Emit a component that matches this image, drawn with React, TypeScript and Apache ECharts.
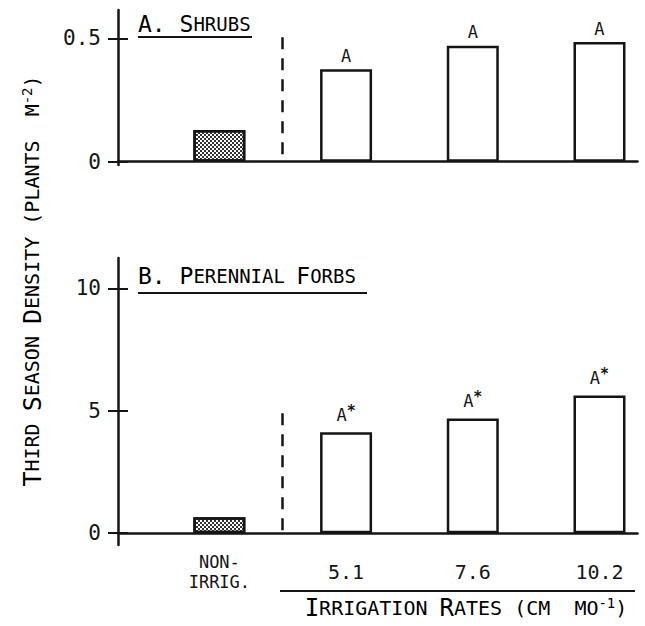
import React, { useEffect, useRef } from "react";
import * as echarts from "echarts";

const categories = ["NON-\nIRRIG.", "5.1", "7.6", "10.2"];
const catPos = [0, 1, 2, 3];
const shrubs = [0.128, 0.375, 0.47, 0.485];
const forbs = [0.65, 4.12, 4.69, 5.63];
const shrubLetters = ["", "A", "A", "A"];
const forbLetters = ["", "A", "A", "A"];
const forbStars = [false, true, true, true];
const shrubTicks = [0, 0.5];
const forbTicks = [0, 5, 10];

const FONT = "DejaVu Sans Mono";
const INK = "#151515";

export default function App() {
  const ref = useRef<HTMLDivElement>(null);
  useEffect(() => {
    if (!ref.current) return;
    const chart = echarts.init(ref.current, null, { renderer: "svg" });

    const stipple = {
      color: "#fff",
      borderColor: INK,
      borderWidth: 2.5,
      decal: {
        symbol: "rect",
        symbolSize: 1,
        dashArrayX: [[2, 2], [0, 2, 2, 0]],
        dashArrayY: [2, 0],
        color: "#333",
        rotation: 0,
      },
    };
    const plain = { color: "#fff", borderColor: INK, borderWidth: 2.5 };

    const mkData = (vals: number[]) =>
      vals.map((v, i) => ({ value: [catPos[i], v], itemStyle: i === 0 ? stipple : plain }));

    const yMain = (gi: number, min: number, max: number, ticks: number[]) => ({
      type: "value",
      gridIndex: gi,
      position: "left",
      min,
      max,
      splitLine: { show: false },
      axisLine: { show: true, onZero: false, lineStyle: { color: INK, width: 2.5 } },
      axisTick: { show: true, length: 10, inside: false, customValues: ticks, lineStyle: { color: INK, width: 2 } },
      axisLabel: {
        show: true,
        customValues: ticks,
        margin: 17,
        fontFamily: FONT,
        fontSize: 21,
        color: INK,
        formatter: (v: number) => String(v),
      },
    });
    const yInner = (gi: number, min: number, max: number, ticks: number[]) => ({
      type: "value",
      gridIndex: gi,
      position: "left",
      min,
      max,
      splitLine: { show: false },
      axisLine: { show: false, onZero: false },
      axisTick: { show: true, length: 10, inside: true, customValues: ticks, lineStyle: { color: INK, width: 2 } },
      axisLabel: { show: false },
    });

    const dashLine = (y0: number, y1: number) => ({
      silent: true,
      symbol: "none",
      label: { show: false },
      lineStyle: { color: INK, width: 2.5, type: [12, 9] },
      data: [[{ coord: [0.5, y0] }, { coord: [0.5, y1] }]],
    });

    const option = {
      animation: false,
      backgroundColor: "#fff",
      grid: [
        { left: 118, right: 7.5, top: 10, height: 155 },
        { left: 118, right: 7.5, top: 258, height: 287 },
      ],
      xAxis: [
        {
          type: "value",
          gridIndex: 0,
          min: -0.8,
          max: 3.3,
          splitLine: { show: false },
          axisLine: { show: true, onZero: true, lineStyle: { color: INK, width: 2.5 } },
          axisTick: { show: false },
          axisLabel: { show: false },
        },
        {
          type: "value",
          gridIndex: 1,
          min: -0.8,
          max: 3.3,
          splitLine: { show: false },
          axisLine: { show: true, onZero: true, lineStyle: { color: INK, width: 2.5 } },
          axisTick: { show: false },
          axisLabel: {
            show: true,
            customValues: catPos,
            margin: 7,
            fontFamily: FONT,
            color: INK,
            formatter: (v: number) => {
              const i = Math.round(v);
              return i === 0 ? "{s|" + categories[0].split("\n").join("}\n{s|") + "}" : "{n|" + categories[i] + "}";
            },
            rich: {
              s: { fontFamily: FONT, fontSize: 17, lineHeight: 20, color: INK },
              n: { fontFamily: FONT, fontSize: 20, lineHeight: 40, color: INK },
            },
          },
        },
      ],
      yAxis: [
        yMain(0, -0.0134, 0.615, shrubTicks),
        yInner(0, -0.0134, 0.615, shrubTicks),
        yMain(1, -0.48, 11.24, forbTicks),
        yInner(1, -0.48, 11.24, forbTicks),
      ],
      series: [
        {
          type: "bar",
          xAxisIndex: 0,
          yAxisIndex: 0,
          barWidth: 52,
          data: mkData(shrubs),
          label: {
            show: true,
            position: "top",
            distance: 5,
            fontFamily: FONT,
            fontSize: 17,
            color: INK,
            formatter: (p: any) => shrubLetters[p.dataIndex],
          },
          markLine: dashLine(0.03, 0.52),
        },
        {
          type: "bar",
          xAxisIndex: 1,
          yAxisIndex: 2,
          barWidth: 52,
          data: mkData(forbs),
          label: {
            show: true,
            position: "top",
            distance: 6,
            color: INK,
            formatter: (p: any) =>
              forbLetters[p.dataIndex] ? "{a|" + forbLetters[p.dataIndex] + "}" + (forbStars[p.dataIndex] ? "{s|*}" : "") : "",
            rich: {
              a: { fontFamily: FONT, fontSize: 17, color: INK },
              s: { fontFamily: FONT, fontSize: 15, fontWeight: "bold", color: INK, verticalAlign: "top", padding: [0, 0, 8, 0] },
            },
          },
          markLine: dashLine(0.12, 4.94),
        },
      ],
      graphic: [
        {
          type: "text",
          left: 138,
          top: 12,
          style: {
            text: "{b|A. S}{s|HRUBS}",
            rich: {
              b: { fontFamily: FONT, fontSize: 23, color: INK },
              s: { fontFamily: FONT, fontSize: 19, color: INK },
            },
          },
        },
        { type: "line", shape: { x1: 138, y1: 37, x2: 252, y2: 37 }, style: { stroke: INK, lineWidth: 2 } },
        {
          type: "text",
          left: 138,
          top: 264,
          style: {
            text: "{b|B. P}{s|ERENNIAL }{b|F}{s|ORBS}",
            rich: {
              b: { fontFamily: FONT, fontSize: 23, color: INK },
              s: { fontFamily: FONT, fontSize: 19, color: INK },
            },
          },
        },
        { type: "line", shape: { x1: 138, y1: 293, x2: 367, y2: 293 }, style: { stroke: INK, lineWidth: 2 } },
        { type: "line", shape: { x1: 280, y1: 591, x2: 635, y2: 591 }, style: { stroke: INK, lineWidth: 2 } },
        {
          type: "text",
          x: 466,
          y: 608,
          style: {
            text: "{b|I}{s|RRIGATION }{b|R}{s|ATES (CM  MO}{p|-1}{s|)}",
            align: "center",
            verticalAlign: "middle",
            rich: {
              b: { fontFamily: FONT, fontSize: 24, color: INK },
              s: { fontFamily: FONT, fontSize: 20, color: INK },
              p: { fontFamily: FONT, fontSize: 14, color: INK, verticalAlign: "top", padding: [0, 0, 10, 0] },
            },
          },
        },
        {
          type: "text",
          x: 32,
          y: 281,
          rotation: Math.PI / 2,
          style: {
            text: "{b|T}{s|HIRD }{b|S}{s|EASON }{b|D}{s|ENSITY (PLANTS  M}{p|-2}{s|)}",
            align: "center",
            verticalAlign: "middle",
            rich: {
              b: { fontFamily: FONT, fontSize: 25, color: INK },
              s: { fontFamily: FONT, fontSize: 20, color: INK },
              p: { fontFamily: FONT, fontSize: 14, color: INK, verticalAlign: "top", padding: [0, 0, 10, 0] },
            },
          },
        },
      ],
    };

    chart.setOption(option as any);
    return () => chart.dispose();
  }, []);
  return <div ref={ref} style={{ position: "fixed", left: 0, top: 0, width: 645, height: 626 }} />;
}
